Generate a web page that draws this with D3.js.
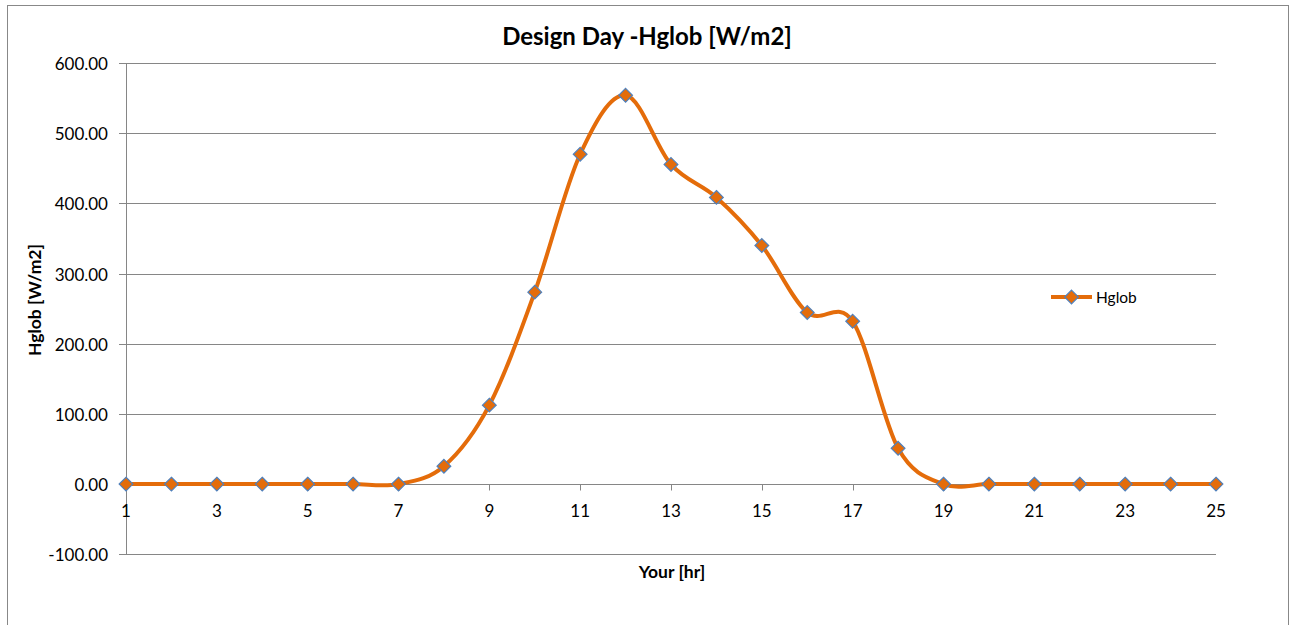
<!DOCTYPE html>
<html>
<head>
<meta charset="utf-8">
<script src="https://cdn.jsdelivr.net/npm/d3@7"></script>
<style>
  body { margin: 0; background: #fff; }
  text { font-family: Lato, "Open Sans", sans-serif; fill: #000; }
</style>
</head>
<body>
<div id="chart"></div>
<script>
const width = 1290
const height = 625

// data
const hours = [1, 2, 3, 4, 5, 6, 7, 8, 9, 10, 11, 12, 13, 14, 15, 16, 17, 18, 19, 20, 21, 22, 23, 24, 25]
const hglob = [0, 0, 0, 0, 0, 0, 0, 25.5, 112.5, 273.5, 470, 554, 455.5, 408.5, 340, 244.5, 232, 51, 0, 0, 0, 0, 0, 0, 0]
const xTicks = [1, 3, 5, 7, 9, 11, 13, 15, 17, 19, 21, 23, 25]
const yTicks = [-100, 0, 100, 200, 300, 400, 500, 600]

const margin = { top: 63, bottom: 71, left: 126, right: 74 }

const svg = d3.select("div#chart").append("svg").attr("width", width).attr("height", height)

// chart frame
svg.append("rect").attr("x", 7.5).attr("y", 5.5).attr("width", 1281).attr("height", 640)
  .attr("fill", "none").attr("stroke", "#888").attr("stroke-width", 1)

const x = d3.scaleLinear().domain([1, 25]).range([margin.left, width - margin.right])
const y = d3.scaleLinear().domain([-100, 600]).range([height - margin.bottom + 0.3, margin.top])

// horizontal gridlines + y ticks
const grid = svg.append("g")
grid.selectAll("line").data(yTicks).join("line")
  .attr("x1", margin.left - 7).attr("x2", x(25))
  .attr("y1", d => Math.round(y(d)) + 0.5).attr("y2", d => Math.round(y(d)) + 0.5)
  .attr("stroke", "#868686").attr("stroke-width", 1)

// y axis line
svg.append("line").attr("x1", margin.left + 0.5).attr("x2", margin.left + 0.5)
  .attr("y1", Math.round(y(600)) + 0.5).attr("y2", Math.round(y(-100)) + 0.5)
  .attr("stroke", "#868686")

// y tick labels (plain hyphen for negatives, like Excel)
svg.append("g").selectAll("text").data(yTicks).join("text")
  .attr("x", 108).attr("y", d => y(d) + 7)
  .attr("text-anchor", "end").attr("font-size", 17)
  .text(d => d.toFixed(2))

// x ticks at zero line
const y0 = Math.round(y(0)) + 0.5
svg.append("g").selectAll("line").data(xTicks).join("line")
  .attr("x1", d => Math.round(x(d)) + 0.5).attr("x2", d => Math.round(x(d)) + 0.5)
  .attr("y1", y0).attr("y2", y0 + 6)
  .attr("stroke", "#868686")

svg.append("g").selectAll("text").data(xTicks).join("text")
  .attr("x", d => x(d)).attr("y", y0 + 32)
  .attr("text-anchor", "middle").attr("font-size", 17)
  .text(d => d)

// titles
svg.append("text").attr("x", 647).attr("y", 45).attr("text-anchor", "middle")
  .attr("font-size", 24).attr("font-weight", "bold").text("Design Day -Hglob [W/m2]")
svg.append("text").attr("transform", "translate(41, 300) rotate(-90)").attr("text-anchor", "middle")
  .attr("font-size", 17.5).attr("font-weight", "bold").text("Hglob [W/m2]")
svg.append("text").attr("x", 672).attr("y", 578).attr("text-anchor", "middle")
  .attr("font-size", 17.5).attr("font-weight", "bold").text("Your [hr]")

// series
const data = hours.map((h, i) => ({ h: h, v: hglob[i] }))
const line = d3.line().x(d => x(d.h)).y(d => y(d.v)).curve(d3.curveCardinal.tension(0))

svg.append("path").datum(data).attr("d", line)
  .attr("fill", "none").attr("stroke", "#E46C0A").attr("stroke-width", 4)

const diamond = d3.symbol().type(d3.symbolDiamond2).size(120)
svg.append("g").selectAll("path").data(data).join("path")
  .attr("transform", d => `translate(${x(d.h)}, ${y(d.v)})`)
  .attr("d", diamond)
  .attr("fill", "#E46C0A").attr("stroke", "#4F81BD").attr("stroke-width", 1.2)

// legend
const lg = svg.append("g").attr("transform", "translate(1051, 297)")
lg.append("line").attr("x1", 0).attr("x2", 41).attr("stroke", "#E46C0A").attr("stroke-width", 4)
lg.append("path").attr("d", diamond).attr("transform", "translate(20.5, 0)")
  .attr("fill", "#E46C0A").attr("stroke", "#4F81BD").attr("stroke-width", 1.2)
lg.append("text").attr("x", 45).attr("y", 6).attr("font-size", 15.5).text("Hglob")
</script>
</body>
</html>
